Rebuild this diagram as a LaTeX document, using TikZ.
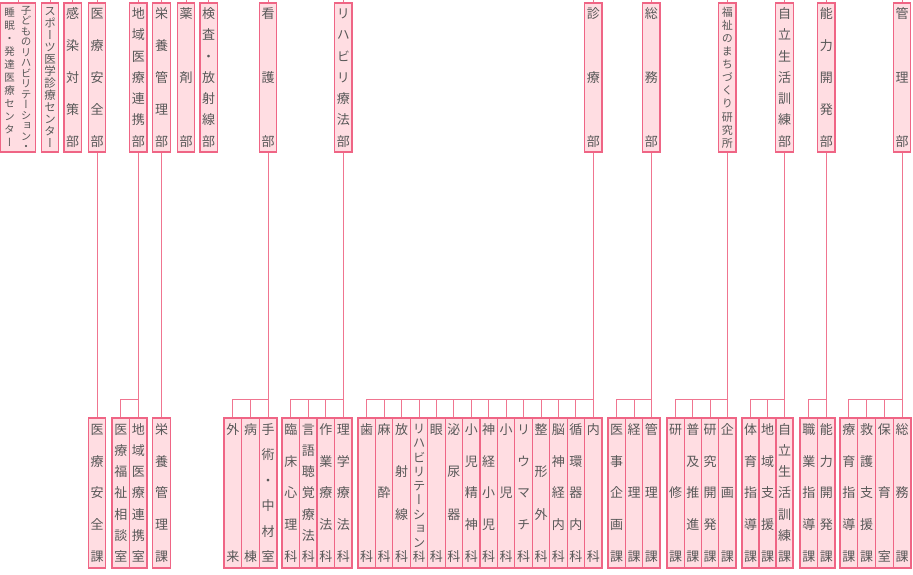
\documentclass[tikz,border=0pt]{standalone}
\usepackage{fontspec}
\setmainfont{Noto Sans CJK JP}[RawFeature=+vert]
\usepackage{xcolor}
\usepackage{tikz}

\definecolor{boxline}{HTML}{EF6585}
\definecolor{boxfill}{HTML}{FFDDE2}
\definecolor{linkc}{HTML}{F07590}
\definecolor{txt}{HTML}{585858}

\makeatletter
% tate-gaki: one glyph per line, spread from top to bottom
\newcommand\tatex[3]{%
  \parbox[c][#2pt][s]{#1pt}{\fontsize{#1}{#1}\selectfont
    \baselineskip=0pt \lineskip=0pt \lineskiplimit=0pt
    \let\tate@sep\relax
    \@tfor\tate@ch:=#3\do{\tate@sep
      \hbox to #1pt{\hss\smash{\tate@ch}\hss\rule[-.12em]{0pt}{1em}}%
      \let\tate@sep\vfill}}}
\newcommand\tate[1]{\tatex{13}{139}{#1}}
\makeatother

\begin{document}
\begin{tikzpicture}[x=1pt, y=-1pt,
    box/.style={draw=boxline, fill=boxfill, line width=1.2pt, inner sep=0pt,
                minimum width=17.4pt, minimum height=149pt, text=txt},
    sect/.style={box, minimum height=150pt},
    link/.style={draw=linkc, line width=1pt}
  ]
    \useasboundingbox (0,0) rectangle (913,574);
    \coordinate (top) at (0,0);
    \coordinate (bus) at (0,399);

    % departments
    \node[box, minimum width=35pt] (kodomo) at (18,77.5)
      {\tatex{10.5}{140}{睡眠・発達医療センター}\hspace{6pt}\tatex{10.5}{144}{子どものリハビリテーション・}};
    \node[box] (sports) at (50,77.5) {\tatex{11.5}{142}{スポーツ医学診療センター}};
    \node[box] (kansen) at (72.7,77.5) {\tate{感染対策部}};
    \node[box] (anzen) at (97,77.5) {\tate{医療安全部}};
    \node[box] (chiiki) at (138.25,77.5) {\tate{地域医療連携部}};
    \node[box] (eiyou) at (161.5,77.5) {\tate{栄養管理部}};
    \node[box] (yakuzai) at (186,77.5) {\tate{薬剤部}};
    \node[box] (kensa) at (208.7,77.5) {\tate{検査・放射線部}};
    \node[box] (kango) at (268.17,77.5) {\tate{看護部}};
    \node[box] (reha) at (343.25,77.5) {\tate{リハビリ療法部}};
    \node[box] (shinryo) at (593.29,77.5) {\tate{診療部}};
    \node[box] (somu) at (651.33,77.5) {\tate{総務部}};
    \node[box] (fukushi) at (727.38,77.5) {\tatex{11}{141}{福祉のまちづくり研究所}};
    \node[box] (jiritsu) at (784.5,77.5) {\tate{自立生活訓練部}};
    \node[box] (nouryoku) at (826.25,77.5) {\tate{能力開発部}};
    \node[box] (kanri) at (902.13,77.5) {\tate{管理部}};

    % sections
    \node[sect] (anzenka) at (97,493) {\tate{医療安全課}};
    \node[sect, minimum width=17.5pt] (soudan) at (120.75,493) {\tate{医療福祉相談室}};
    \node[sect, minimum width=17.5pt] (renkei) at (138.25,493) {\tate{地域医療連携室}};
    \node[sect] (eiyouka) at (161.5,493) {\tate{栄養管理課}};

    \node[sect, minimum width=17.67pt] (gairai) at (232.83,493) {\tate{外来}};
    \node[sect, minimum width=17.67pt] (byoutou) at (250.5,493) {\tate{病棟}};
    \node[sect, minimum width=17.67pt] (shujutsu) at (268.17,493) {\tate{手術・中材室}};

    \node[sect, minimum width=17.5pt] (rinsho) at (290.75,493) {\tate{臨床心理科}};
    \node[sect, minimum width=17.5pt] (gengo) at (308.25,493) {\tate{言語聴覚療法科}};
    \node[sect, minimum width=17.5pt] (sagyo) at (325.75,493) {\tate{作業療法科}};
    \node[sect, minimum width=17.5pt] (rigaku) at (343.25,493) {\tate{理学療法科}};

    \node[sect, minimum width=17.43pt] (shika) at (366.71,493) {\tate{歯科}};
    \node[sect, minimum width=17.43pt] (masui) at (384.14,493) {\tate{麻酔科}};
    \node[sect, minimum width=17.43pt] (hosha) at (401.57,493) {\tate{放射線科}};
    \node[sect, minimum width=17.43pt] (rehaka) at (419,493) {\tatex{12.5}{139}{リハビリテーション科}};
    \node[sect, minimum width=17.43pt] (ganka) at (436.43,493) {\tate{眼科}};
    \node[sect, minimum width=17.43pt] (hinyoki) at (453.86,493) {\tate{泌尿器科}};
    \node[sect, minimum width=17.43pt] (shonisei) at (471.29,493) {\tate{小児精神科}};
    \node[sect, minimum width=17.43pt] (shinkeisho) at (488.71,493) {\tate{神経小児科}};
    \node[sect, minimum width=17.43pt] (shonika) at (506.14,493) {\tate{小児科}};
    \node[sect, minimum width=17.43pt] (riuma) at (523.57,493) {\tate{リウマチ科}};
    \node[sect, minimum width=17.43pt] (seikei) at (541,493) {\tate{整形外科}};
    \node[sect, minimum width=17.43pt] (noushin) at (558.43,493) {\tate{脳神経内科}};
    \node[sect, minimum width=17.43pt] (junkan) at (575.86,493) {\tate{循環器内科}};
    \node[sect, minimum width=17.43pt] (naika) at (593.29,493) {\tate{内科}};

    \node[sect, minimum width=17.33pt] (iji) at (616.67,493) {\tate{医事企画課}};
    \node[sect, minimum width=17.33pt] (keiri) at (634,493) {\tate{経理課}};
    \node[sect, minimum width=17.33pt] (kanrika) at (651.33,493) {\tate{管理課}};

    \node[sect, minimum width=17.25pt] (kenshu) at (675.63,493) {\tate{研修課}};
    \node[sect, minimum width=17.25pt] (fukyu) at (692.88,493) {\tate{普及推進課}};
    \node[sect, minimum width=17.25pt] (kenkyu) at (710.13,493) {\tate{研究開発課}};
    \node[sect, minimum width=17.25pt] (kikaku) at (727.38,493) {\tate{企画課}};

    \node[sect, minimum width=17pt] (taiiku) at (750.5,493) {\tate{体育指導課}};
    \node[sect, minimum width=17pt] (shien) at (767.5,493) {\tate{地域支援課}};
    \node[sect, minimum width=17pt] (jiritsuka) at (784.5,493) {\tate{自立生活訓練課}};

    \node[sect, minimum width=17.5pt] (shokugyo) at (808.75,493) {\tate{職業指導課}};
    \node[sect, minimum width=17.5pt] (kaihatsu) at (826.25,493) {\tate{能力開発課}};

    \node[sect, minimum width=17.75pt] (ryoiku) at (848.88,493) {\tate{療育指導課}};
    \node[sect, minimum width=17.75pt] (kyugo) at (866.63,493) {\tate{救護支援課}};
    \node[sect, minimum width=17.75pt] (hoiku) at (884.38,493) {\tate{保育室}};
    \node[sect, minimum width=17.75pt] (somuka) at (902.13,493) {\tate{総務課}};

    % stubs up to the parent
    \draw[link] (kodomo.north) -- (kodomo.north |- top);
    \draw[link] (sports.north) -- (sports.north |- top);
    \draw[link] (kansen.north) -- (kansen.north |- top);
    \draw[link] (anzen.north) -- (anzen.north |- top);
    \draw[link] (chiiki.north) -- (chiiki.north |- top);
    \draw[link] (eiyou.north) -- (eiyou.north |- top);
    \draw[link] (yakuzai.north) -- (yakuzai.north |- top);
    \draw[link] (kensa.north) -- (kensa.north |- top);
    \draw[link] (kango.north) -- (kango.north |- top);
    \draw[link] (reha.north) -- (reha.north |- top);
    \draw[link] (shinryo.north) -- (shinryo.north |- top);
    \draw[link] (somu.north) -- (somu.north |- top);
    \draw[link] (fukushi.north) -- (fukushi.north |- top);
    \draw[link] (jiritsu.north) -- (jiritsu.north |- top);
    \draw[link] (nouryoku.north) -- (nouryoku.north |- top);
    \draw[link] (kanri.north) -- (kanri.north |- top);

    % department -> sections
    \draw[link] (anzen.south) -- (anzenka.north);
    \draw[link] (eiyou.south) -- (eiyouka.north);

    \draw[link] (chiiki.south) -- (renkei.north);
    \draw[link] (soudan.north) |- (chiiki.south |- bus);

    \draw[link] (kango.south) -- (shujutsu.north);
    \draw[link] (gairai.north) |- (kango.south |- bus);
    \draw[link] (byoutou.north) -- (byoutou.north |- bus);

    \draw[link] (reha.south) -- (rigaku.north);
    \draw[link] (rinsho.north) |- (reha.south |- bus);
    \draw[link] (gengo.north) -- (gengo.north |- bus);
    \draw[link] (sagyo.north) -- (sagyo.north |- bus);

    \draw[link] (shinryo.south) -- (naika.north);
    \draw[link] (shika.north) |- (shinryo.south |- bus);
    \draw[link] (masui.north) -- (masui.north |- bus);
    \draw[link] (hosha.north) -- (hosha.north |- bus);
    \draw[link] (rehaka.north) -- (rehaka.north |- bus);
    \draw[link] (ganka.north) -- (ganka.north |- bus);
    \draw[link] (hinyoki.north) -- (hinyoki.north |- bus);
    \draw[link] (shonisei.north) -- (shonisei.north |- bus);
    \draw[link] (shinkeisho.north) -- (shinkeisho.north |- bus);
    \draw[link] (shonika.north) -- (shonika.north |- bus);
    \draw[link] (riuma.north) -- (riuma.north |- bus);
    \draw[link] (seikei.north) -- (seikei.north |- bus);
    \draw[link] (noushin.north) -- (noushin.north |- bus);
    \draw[link] (junkan.north) -- (junkan.north |- bus);

    \draw[link] (somu.south) -- (kanrika.north);
    \draw[link] (iji.north) |- (somu.south |- bus);
    \draw[link] (keiri.north) -- (keiri.north |- bus);

    \draw[link] (fukushi.south) -- (kikaku.north);
    \draw[link] (kenshu.north) |- (fukushi.south |- bus);
    \draw[link] (fukyu.north) -- (fukyu.north |- bus);
    \draw[link] (kenkyu.north) -- (kenkyu.north |- bus);

    \draw[link] (jiritsu.south) -- (jiritsuka.north);
    \draw[link] (taiiku.north) |- (jiritsu.south |- bus);
    \draw[link] (shien.north) -- (shien.north |- bus);

    \draw[link] (nouryoku.south) -- (kaihatsu.north);
    \draw[link] (shokugyo.north) |- (nouryoku.south |- bus);

    \draw[link] (kanri.south) -- (somuka.north);
    \draw[link] (ryoiku.north) |- (kanri.south |- bus);
    \draw[link] (kyugo.north) -- (kyugo.north |- bus);
    \draw[link] (hoiku.north) -- (hoiku.north |- bus);
  \end{tikzpicture}
\end{document}
